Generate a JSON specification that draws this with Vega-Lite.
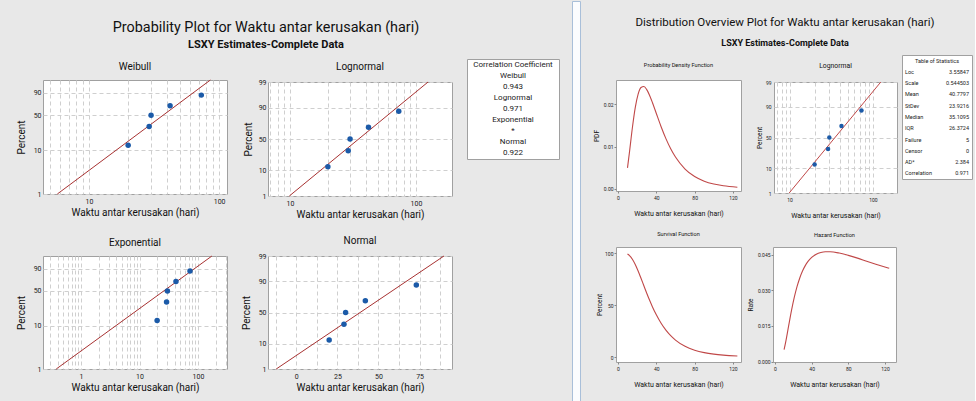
{
"$schema": "https://vega.github.io/schema/vega-lite/v6.json",
"background": "#e8e8e8",
"padding": {"left": 15, "top": 0, "right": 2, "bottom": 0},
"spacing": 11,
"datasets": {
 "pts": [
  {"t": 20, "pct": 12.96, "w": -1.97445, "z": -1.1281},
  {"t": 29, "pct": 31.48, "w": -0.97266, "z": -0.4824},
  {"t": 30, "pct": 50, "w": -0.36651, "z": 0},
  {"t": 42, "pct": 68.52, "w": 0.14477, "z": 0.4824},
  {"t": 73, "pct": 87.04, "w": 0.71445, "z": 1.1281}
 ],
 "fitW": [{"t": 5.71, "w": -4.60015}, {"t": 85.7, "w": 1.52718}],
 "fitL": [{"t": 9.89, "z": -2.32635}, {"t": 124.6, "z": 2.32635}],
 "fitE": [{"t": 0.377, "w": -4.60015}, {"t": 172.7, "w": 1.52718}],
 "fitN": [{"t": -12.2, "z": -2.32635}, {"t": 89.8, "z": 2.32635}],
 "curve": [
  {"t": 9.89, "pdf": 0.004944, "surv": 99.0, "haz": 0.00499},
  {"t": 12, "pdf": 0.008742, "surv": 97.57, "haz": 0.00896},
  {"t": 15, "pdf": 0.014425, "surv": 94.08, "haz": 0.01533},
  {"t": 18, "pdf": 0.019175, "surv": 89.01, "haz": 0.02154},
  {"t": 21, "pdf": 0.022348, "surv": 82.74, "haz": 0.02701},
  {"t": 24, "pdf": 0.023917, "surv": 75.76, "haz": 0.03157},
  {"t": 27, "pdf": 0.024156, "surv": 68.52, "haz": 0.03525},
  {"t": 30, "pdf": 0.023425, "surv": 61.36, "haz": 0.03818},
  {"t": 33, "pdf": 0.022059, "surv": 54.53, "haz": 0.04045},
  {"t": 36, "pdf": 0.020331, "surv": 48.17, "haz": 0.04221},
  {"t": 40, "pdf": 0.017799, "surv": 40.54, "haz": 0.0439},
  {"t": 45, "pdf": 0.014675, "surv": 32.43, "haz": 0.04525},
  {"t": 50, "pdf": 0.011868, "surv": 25.81, "haz": 0.04598},
  {"t": 55, "pdf": 0.009484, "surv": 20.49, "haz": 0.04629},
  {"t": 60, "pdf": 0.007524, "surv": 16.25, "haz": 0.0463},
  {"t": 70, "pdf": 0.004689, "surv": 10.25, "haz": 0.04575},
  {"t": 80, "pdf": 0.002918, "surv": 6.52, "haz": 0.04476},
  {"t": 90, "pdf": 0.001827, "surv": 4.19, "haz": 0.0436},
  {"t": 100, "pdf": 0.001155, "surv": 2.73, "haz": 0.04231},
  {"t": 110, "pdf": 0.000739, "surv": 1.8, "haz": 0.04106},
  {"t": 124.6, "pdf": 0.000393, "surv": 1.0, "haz": 0.0393}
 ],
 "corr": [
  {"i": 1, "txt": "Correlation Coefficient"},
  {"i": 2, "txt": "Weibull"},
  {"i": 3, "txt": "0.943"},
  {"i": 4, "txt": "Lognormal"},
  {"i": 5, "txt": "0.971"},
  {"i": 6, "txt": "Exponential"},
  {"i": 7, "txt": "*"},
  {"i": 8, "txt": "Normal"},
  {"i": 9, "txt": "0.922"}
 ],
 "stats": [
  {"i": 1, "lab": "Loc", "val": "3.55847"},
  {"i": 2, "lab": "Scale", "val": "0.544503"},
  {"i": 3, "lab": "Mean", "val": "40.7797"},
  {"i": 4, "lab": "StDev", "val": "23.9216"},
  {"i": 5, "lab": "Median", "val": "35.1095"},
  {"i": 6, "lab": "IQR", "val": "26.3724"},
  {"i": 7, "lab": "Failure", "val": "5"},
  {"i": 8, "lab": "Censor", "val": "0"},
  {"i": 9, "lab": "AD*", "val": "2.384"},
  {"i": 10, "lab": "Correlation", "val": "0.971"}
 ],
 "statsHead": [{"i": 0, "txt": "Table of Statistics"}]
},
"config": {
 "font": "Roboto",
 "view": {"stroke": "#a0a0a0", "strokeWidth": 1, "fill": "white"},
 "axis": {"domain": false, "ticks": false, "labelColor": "#222", "titleColor": "#111", "titleFontWeight": "normal", "gridDash": [4, 3], "gridColor": "#cfcfcf", "gridWidth": 1, "labelFlush": false, "labelOverlap": false, "labelFont": "Roboto", "titleFont": "Roboto", "tickCount": 100},
 "title": {"fontWeight": "normal", "color": "#111", "font": "Roboto"}
},
"hconcat": [
 {
  "spacing": 4,
  "vconcat": [
   {"width": 446, "height": 52, "view": {"stroke": "transparent", "fill": "transparent"},
    "layer": [
     {"data": {"values": [{"part": "t", "txt": "Probability Plot for Waktu antar kerusakan (hari)"}]},
      "mark": {"type": "text", "fontSize": 14.4, "color": "#111"},
      "encoding": {"y": {"field": "part", "type": "nominal", "axis": null, "scale": {"type": "point", "domain": ["t", "s"], "padding": 1.029, "align": 0.771}}, "text": {"field": "txt"}}},
     {"data": {"values": [{"part": "s", "txt": "LSXY Estimates-Complete Data"}]},
      "mark": {"type": "text", "fontSize": 11, "fontWeight": "bold", "color": "#111"},
      "encoding": {"y": {"field": "part", "type": "nominal", "axis": null, "scale": {"type": "point", "domain": ["t", "s"], "padding": 1.029, "align": 0.771}}, "text": {"field": "txt"}}}
    ]},
   {"spacing": 15, "vconcat": [
    {"spacing": 13, "hconcat": [
     {"spacing": 14, "hconcat": [
      {"spacing": 0, "vconcat": [
       {"width": 1, "height": 1, "data": {"values": []}, "mark": "rect", "encoding": {}, "view": {"stroke": "transparent", "fill": "transparent"}},
       {"width": 184, "height": 114,
        "title": {"text": "Weibull", "fontSize": 10, "offset": 6},
        "layer": [
         {"data": {"name": "fitW"}, "mark": {"type": "line", "color": "#a83232", "strokeWidth": 1},
          "encoding": {
           "x": {"field": "t", "type": "quantitative", "scale": {"type": "log", "domain": [4.43, 115], "nice": false},
                 "axis": {"title": "Waktu antar kerusakan (hari)", "titleFontSize": 10, "titlePadding": 3, "labelFontSize": 7, "labelPadding": 3, "grid": true, "tickCount": 100,
                          "values": [5, 6, 7, 8, 9, 10, 20, 30, 40, 50, 60, 70, 80, 90, 100],
                          "labelExpr": "datum.value == 10 ? '10' : datum.value == 100 ? '100' : ''"}},
           "y": {"field": "w", "type": "quantitative", "scale": {"domain": [-4.60015, 1.52718], "nice": false, "zero": false},
                 "axis": {"title": "Percent", "titleFontSize": 10, "titlePadding": 7, "labelFontSize": 7, "labelPadding": 2, "minExtent": 10, "maxExtent": 10, "grid": true, "tickCount": 100,
                          "values": [-4.60015, -2.25037, -0.36651, 0.83403],
                          "labelExpr": "datum.value < -4 ? '1' : datum.value < -2 ? '10' : datum.value < 0 ? '50' : '90'"}}
          }},
         {"data": {"name": "pts"}, "mark": {"type": "point", "filled": true, "size": 30, "color": "#1b5aa8", "opacity": 1},
          "encoding": {
           "x": {"field": "t", "type": "quantitative", "scale": {"type": "log", "domain": [4.43, 115], "nice": false}},
           "y": {"field": "w", "type": "quantitative", "scale": {"domain": [-4.60015, 1.52718], "nice": false, "zero": false}}
          }}
        ]}
      ]},
      {"spacing": 0, "vconcat": [
       {"width": 1, "height": 1, "data": {"values": []}, "mark": "rect", "encoding": {}, "view": {"stroke": "transparent", "fill": "transparent"}},
       {"width": 184, "height": 114,
        "title": {"text": "Lognormal", "fontSize": 10, "offset": 6},
        "layer": [
         {"data": {"name": "fitL"}, "mark": {"type": "line", "color": "#a83232", "strokeWidth": 1},
          "encoding": {
           "x": {"field": "t", "type": "quantitative", "scale": {"type": "log", "domain": [6.7, 193], "nice": false},
                 "axis": {"title": "Waktu antar kerusakan (hari)", "titleFontSize": 10, "titlePadding": 3, "labelFontSize": 7, "labelPadding": 3, "grid": true, "tickCount": 100,
                          "values": [7, 8, 9, 10, 20, 30, 40, 50, 60, 70, 80, 90, 100],
                          "labelExpr": "datum.value == 10 ? '10' : datum.value == 100 ? '100' : ''"}},
           "y": {"field": "z", "type": "quantitative", "scale": {"domain": [-2.32635, 2.32635], "nice": false, "zero": false},
                 "axis": {"title": "Percent", "titleFontSize": 10, "titlePadding": 5, "labelFontSize": 7, "labelPadding": 2, "minExtent": 10, "maxExtent": 10, "grid": true, "tickCount": 100,
                          "values": [-2.32635, -1.28155, 0, 1.28155, 2.32635],
                          "labelExpr": "datum.value < -2 ? '1' : datum.value < -1 ? '10' : datum.value < 1 ? '50' : datum.value < 2 ? '90' : '99'"}}
          }},
         {"data": {"name": "pts"}, "mark": {"type": "point", "filled": true, "size": 30, "color": "#1b5aa8", "opacity": 1},
          "encoding": {
           "x": {"field": "t", "type": "quantitative", "scale": {"type": "log", "domain": [6.7, 193], "nice": false}},
           "y": {"field": "z", "type": "quantitative", "scale": {"domain": [-2.32635, 2.32635], "nice": false, "zero": false}}
          }}
        ]}
      ]}
     ]},
     {"width": 92, "height": 100, "data": {"name": "corr"},
      "view": {"stroke": "#a0a0a0", "fill": "white"},
      "mark": {"type": "text", "fontSize": 8, "color": "#222"},
      "encoding": {
       "y": {"field": "i", "type": "ordinal", "axis": null, "scale": {"type": "point", "padding": 0.55}},
       "text": {"field": "txt"}
      }}
    ]},
    {"spacing": 12, "hconcat": [
     {"width": 184, "height": 113,
      "title": {"text": "Exponential", "fontSize": 10, "offset": 6},
      "layer": [
       {"data": {"name": "fitE"}, "mark": {"type": "line", "color": "#a83232", "strokeWidth": 1},
        "encoding": {
         "x": {"field": "t", "type": "quantitative", "scale": {"type": "log", "domain": [0.224, 313], "nice": false},
               "axis": {"title": "Waktu antar kerusakan (hari)", "titleFontSize": 10, "titlePadding": 3, "labelFontSize": 7, "labelPadding": 3, "grid": true, "tickCount": 100,
                        "values": [0.3, 0.4, 0.5, 0.6, 0.7, 0.8, 0.9, 1, 2, 3, 4, 5, 6, 7, 8, 9, 10, 20, 30, 40, 50, 60, 70, 80, 90, 100, 200, 300],
                        "labelExpr": "datum.value == 1 ? '1' : datum.value == 10 ? '10' : datum.value == 100 ? '100' : ''"}},
         "y": {"field": "w", "type": "quantitative", "scale": {"domain": [-4.60015, 1.52718], "nice": false, "zero": false},
               "axis": {"title": "Percent", "titleFontSize": 10, "titlePadding": 7, "labelFontSize": 7, "labelPadding": 2, "minExtent": 10, "maxExtent": 10, "grid": true, "tickCount": 100,
                        "values": [-4.60015, -2.25037, -0.36651, 0.83403],
                        "labelExpr": "datum.value < -4 ? '1' : datum.value < -2 ? '10' : datum.value < 0 ? '50' : '90'"}}
        }},
       {"data": {"name": "pts"}, "mark": {"type": "point", "filled": true, "size": 30, "color": "#1b5aa8", "opacity": 1},
        "encoding": {
         "x": {"field": "t", "type": "quantitative", "scale": {"type": "log", "domain": [0.224, 313], "nice": false}},
         "y": {"field": "w", "type": "quantitative", "scale": {"domain": [-4.60015, 1.52718], "nice": false, "zero": false}}
        }}
      ]},
     {"width": 184, "height": 113,
      "title": {"text": "Normal", "fontSize": 10, "offset": 6},
      "layer": [
       {"data": {"name": "fitN"}, "mark": {"type": "line", "color": "#a83232", "strokeWidth": 1},
        "encoding": {
         "x": {"field": "t", "type": "quantitative", "scale": {"domain": [-17.2, 94.7], "nice": false, "zero": false},
               "axis": {"title": "Waktu antar kerusakan (hari)", "titleFontSize": 10, "titlePadding": 3, "labelFontSize": 7, "labelPadding": 3, "grid": true, "tickCount": 100,
                        "values": [-12.5, 0, 12.5, 25, 37.5, 50, 62.5, 75, 87.5],
                        "labelExpr": "datum.value == 0 ? '0' : datum.value == 25 ? '25' : datum.value == 50 ? '50' : datum.value == 75 ? '75' : ''"}},
         "y": {"field": "z", "type": "quantitative", "scale": {"domain": [-2.32635, 2.32635], "nice": false, "zero": false},
               "axis": {"title": "Percent", "titleFontSize": 10, "titlePadding": 7, "labelFontSize": 7, "labelPadding": 2, "minExtent": 10, "maxExtent": 10, "grid": true, "tickCount": 100,
                        "values": [-2.32635, -1.28155, 0, 1.28155, 2.32635],
                        "labelExpr": "datum.value < -2 ? '1' : datum.value < -1 ? '10' : datum.value < 1 ? '50' : datum.value < 2 ? '90' : '99'"}}
        }},
       {"data": {"name": "pts"}, "mark": {"type": "point", "filled": true, "size": 30, "color": "#1b5aa8", "opacity": 1},
        "encoding": {
         "x": {"field": "t", "type": "quantitative", "scale": {"domain": [-17.2, 94.7], "nice": false, "zero": false}},
         "y": {"field": "z", "type": "quantitative", "scale": {"domain": [-2.32635, 2.32635], "nice": false, "zero": false}}
        }}
      ]}
    ]}
   ]}
  ]
 },
 {"width": 8, "height": 401, "data": {"values": []}, "mark": "rect", "encoding": {},
  "view": {"fill": "#fbfcfe", "stroke": "#a9bfd9", "strokeWidth": 1}},
 {
  "spacing": 4,
  "vconcat": [
   {"width": 338, "height": 48, "view": {"stroke": "transparent", "fill": "transparent"},
    "layer": [
     {"data": {"values": [{"part": "t", "txt": "Distribution Overview Plot for Waktu antar kerusakan (hari)"}]},
      "mark": {"type": "text", "fontSize": 11.5, "color": "#111"},
      "encoding": {"y": {"field": "part", "type": "nominal", "axis": null, "scale": {"type": "point", "domain": ["t", "s"], "padding": 0.7, "align": 0.786}}, "text": {"field": "txt"}}},
     {"data": {"values": [{"part": "s", "txt": "LSXY Estimates-Complete Data"}]},
      "mark": {"type": "text", "fontSize": 9, "fontWeight": "bold", "color": "#111"},
      "encoding": {"y": {"field": "part", "type": "nominal", "axis": null, "scale": {"type": "point", "domain": ["t", "s"], "padding": 0.7, "align": 0.786}}, "text": {"field": "txt"}}}
    ]},
   {"spacing": 12, "vconcat": [
    {"spacing": 3, "hconcat": [
     {"spacing": 13, "hconcat": [
      {"spacing": 5, "vconcat": [
       {"width": 1, "height": 1, "data": {"values": []}, "mark": "rect", "encoding": {}, "view": {"stroke": "transparent", "fill": "transparent"}},
       {"width": 125, "height": 111,
        "title": {"text": "Probability Density Function", "fontSize": 5.6, "offset": 11},
        "data": {"name": "curve"},
        "mark": {"type": "line", "color": "#c04848", "strokeWidth": 1.1, "interpolate": "monotone"},
        "encoding": {
         "x": {"field": "t", "type": "quantitative", "scale": {"domain": [-2.1, 128.4], "nice": false, "zero": false},
               "axis": {"title": "Waktu antar kerusakan (hari)", "titleFontSize": 7, "titlePadding": 9, "labelFontSize": 5, "labelPadding": 2, "ticks": true, "tickSize": 2, "tickColor": "#888", "grid": false, "tickCount": 100, "values": [0, 40, 80, 120]}},
         "y": {"field": "pdf", "type": "quantitative", "scale": {"domain": [-0.0005, 0.0257], "nice": false, "zero": false},
               "axis": {"title": "PDF", "titleFontSize": 6.5, "titlePadding": 4.7, "labelFontSize": 5, "labelPadding": 1, "ticks": true, "tickSize": 2, "tickColor": "#888", "grid": false, "minExtent": 12, "maxExtent": 12, "tickCount": 100, "values": [0, 0.01, 0.02], "format": ".2f"}}
        }}
      ]},
      {"spacing": 5, "vconcat": [
       {"width": 1, "height": 1, "data": {"values": []}, "mark": "rect", "encoding": {}, "view": {"stroke": "transparent", "fill": "transparent"}},
       {"width": 123, "height": 111,
        "title": {"text": "Lognormal", "fontSize": 6.8, "offset": 10},
        "layer": [
         {"data": {"name": "fitL"}, "mark": {"type": "line", "color": "#c04848", "strokeWidth": 1},
          "encoding": {
           "x": {"field": "t", "type": "quantitative", "scale": {"type": "log", "domain": [6.5, 195], "nice": false},
                 "axis": {"title": "Waktu antar kerusakan (hari)", "titleFontSize": 7, "titlePadding": 9, "labelFontSize": 5, "labelPadding": 4, "grid": true, "tickCount": 100,
                          "values": [7, 8, 9, 10, 20, 30, 40, 50, 60, 70, 80, 90, 100],
                          "labelExpr": "datum.value == 10 ? '10' : datum.value == 100 ? '100' : ''"}},
           "y": {"field": "z", "type": "quantitative", "scale": {"domain": [-2.32635, 2.32635], "nice": false, "zero": false},
                 "axis": {"title": "Percent", "titleFontSize": 6.5, "titlePadding": 2, "labelFontSize": 5, "labelPadding": 3, "grid": true, "minExtent": 10, "maxExtent": 10, "tickCount": 100,
                          "values": [-2.32635, -1.28155, 0, 1.28155, 2.32635],
                          "labelExpr": "datum.value < -2 ? '1' : datum.value < -1 ? '10' : datum.value < 1 ? '50' : datum.value < 2 ? '90' : '99'"}}
          }},
         {"data": {"name": "pts"}, "mark": {"type": "point", "filled": true, "size": 20, "color": "#1b5aa8", "opacity": 1},
          "encoding": {
           "x": {"field": "t", "type": "quantitative", "scale": {"type": "log", "domain": [6.5, 195], "nice": false}},
           "y": {"field": "z", "type": "quantitative", "scale": {"domain": [-2.32635, 2.32635], "nice": false, "zero": false}}
          }}
        ]}
      ]}
     ]},
     {"width": 70, "height": 124,
      "view": {"stroke": "#a0a0a0", "fill": "white"},
      "layer": [
       {"data": {"name": "statsHead"}, "mark": {"type": "text", "fontSize": 5.5, "color": "#222"},
        "encoding": {
         "x": {"datum": "C", "type": "nominal", "scale": {"type": "point", "domain": ["L", "C", "R"], "padding": 0}, "axis": null},
         "y": {"field": "i", "type": "ordinal", "axis": null, "scale": {"type": "point", "domain": [0, 1, 2, 3, 4, 5, 6, 7, 8, 9, 10], "padding": 0.5}},
         "text": {"field": "txt"}
        }},
       {"data": {"name": "stats"}, "mark": {"type": "text", "fontSize": 5.5, "color": "#222", "align": "left", "dx": 3},
        "encoding": {
         "x": {"datum": "L", "type": "nominal", "scale": {"type": "point", "domain": ["L", "C", "R"], "padding": 0}, "axis": null},
         "y": {"field": "i", "type": "ordinal", "axis": null, "scale": {"type": "point", "domain": [0, 1, 2, 3, 4, 5, 6, 7, 8, 9, 10], "padding": 0.5}},
         "text": {"field": "lab"}
        }},
       {"data": {"name": "stats"}, "mark": {"type": "text", "fontSize": 5.5, "color": "#222", "align": "right", "dx": -3},
        "encoding": {
         "x": {"datum": "R", "type": "nominal", "scale": {"type": "point", "domain": ["L", "C", "R"], "padding": 0}, "axis": null},
         "y": {"field": "i", "type": "ordinal", "axis": null, "scale": {"type": "point", "domain": [0, 1, 2, 3, 4, 5, 6, 7, 8, 9, 10], "padding": 0.5}},
         "text": {"field": "val"}
        }}
      ]}
    ]},
    {"spacing": 5, "hconcat": [
     {"width": 125, "height": 115,
      "title": {"text": "Survival Function", "fontSize": 5.6, "offset": 9},
      "data": {"name": "curve"},
      "mark": {"type": "line", "color": "#c04848", "strokeWidth": 1.1, "interpolate": "monotone"},
      "encoding": {
       "x": {"field": "t", "type": "quantitative", "scale": {"domain": [-2.1, 128.4], "nice": false, "zero": false},
             "axis": {"title": "Waktu antar kerusakan (hari)", "titleFontSize": 7, "titlePadding": 9, "labelFontSize": 5, "labelPadding": 2, "ticks": true, "tickSize": 2, "tickColor": "#888", "grid": false, "tickCount": 100, "values": [0, 40, 80, 120]}},
       "y": {"field": "surv", "type": "quantitative", "scale": {"domain": [-4.8, 105.8], "nice": false, "zero": false},
             "axis": {"title": "Percent", "titleFontSize": 6.5, "titlePadding": 2, "labelFontSize": 5, "labelPadding": 1, "ticks": true, "tickSize": 2, "tickColor": "#888", "grid": false, "minExtent": 12, "maxExtent": 12, "tickCount": 100, "values": [0, 50, 100]}}
      }},
     {"width": 123, "height": 115,
      "title": {"text": "Hazard Function", "fontSize": 5.6, "offset": 8},
      "data": {"name": "curve"},
      "mark": {"type": "line", "color": "#c04848", "strokeWidth": 1.1, "interpolate": "monotone"},
      "encoding": {
       "x": {"field": "t", "type": "quantitative", "scale": {"domain": [-2.2, 132], "nice": false, "zero": false},
             "axis": {"title": "Waktu antar kerusakan (hari)", "titleFontSize": 7, "titlePadding": 9, "labelFontSize": 5, "labelPadding": 2, "ticks": true, "tickSize": 2, "tickColor": "#888", "grid": false, "tickCount": 100, "values": [0, 40, 80, 120]}},
       "y": {"field": "haz", "type": "quantitative", "scale": {"domain": [-0.0002, 0.0483], "nice": false, "zero": false},
             "axis": {"title": "Rate", "titleFontSize": 6.5, "titlePadding": 5.5, "labelFontSize": 5, "labelPadding": 1, "ticks": true, "tickSize": 2, "tickColor": "#888", "grid": false, "minExtent": 14, "maxExtent": 14, "tickCount": 100, "values": [0, 0.015, 0.03, 0.045], "format": ".3f"}}
      }}
    ]}
   ]}
  ]
 }
]
}
